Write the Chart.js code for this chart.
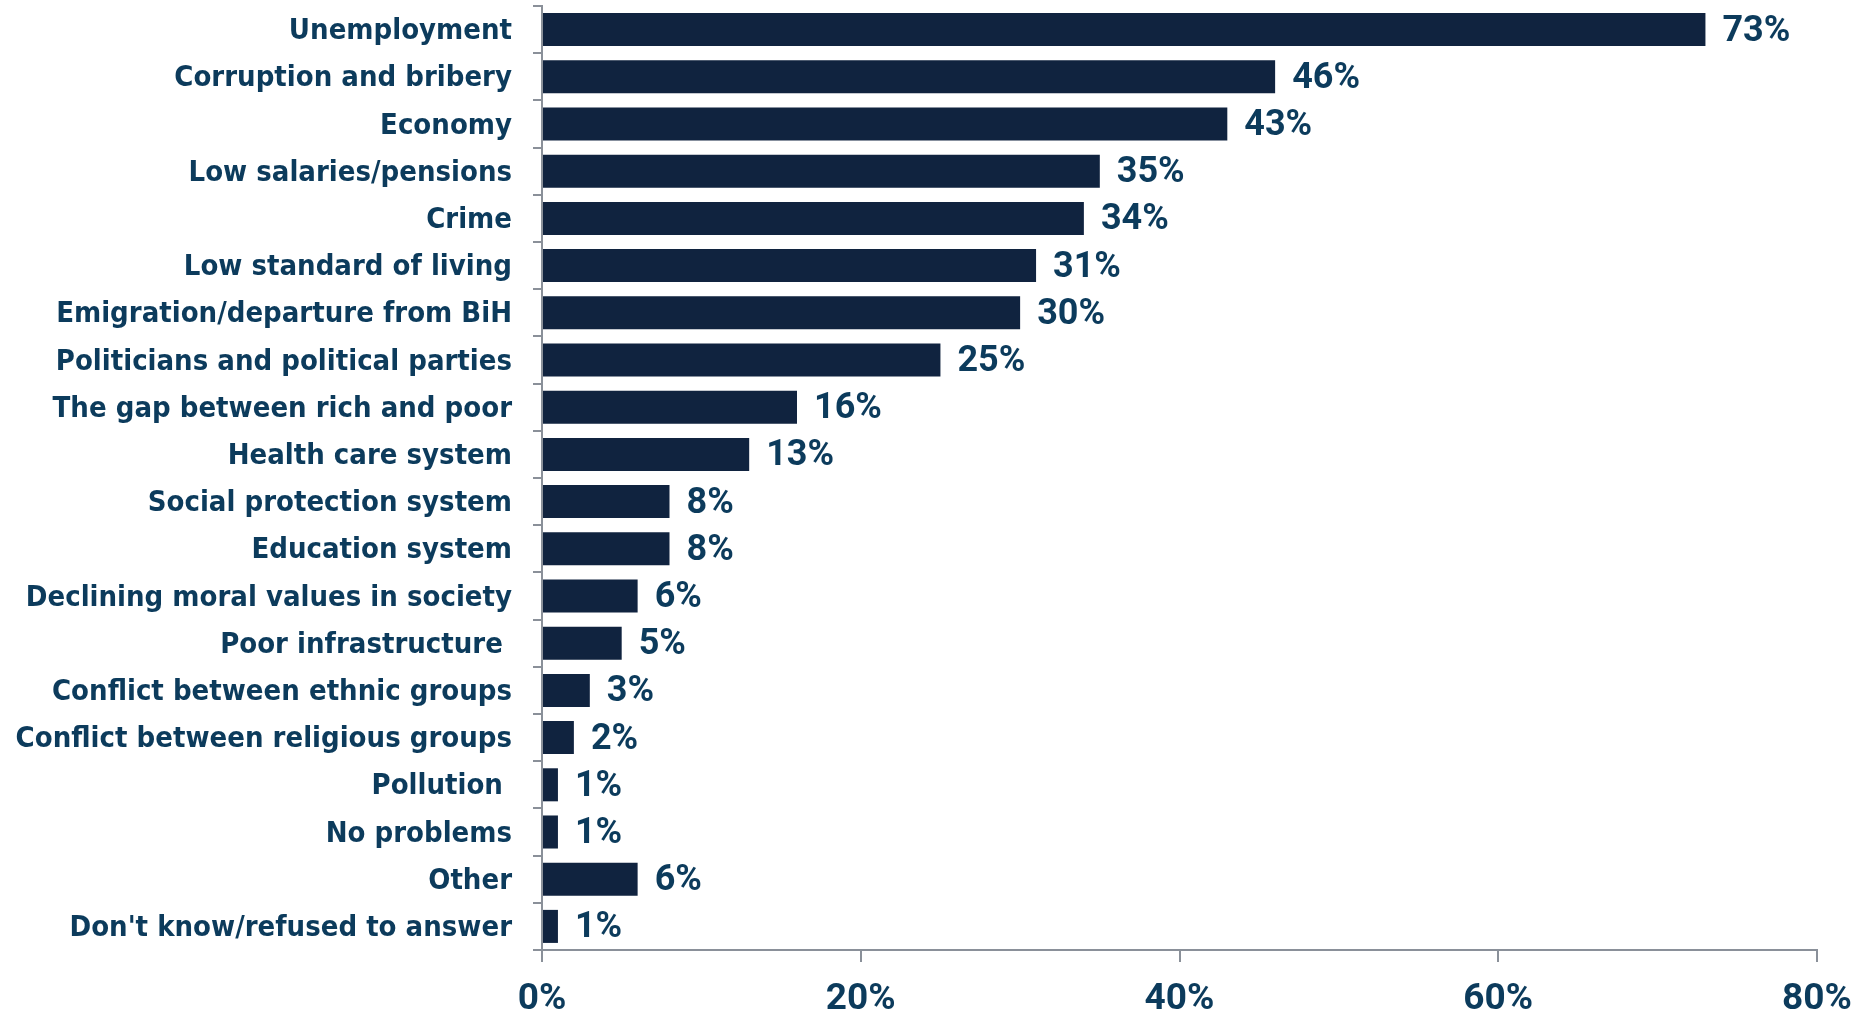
<!DOCTYPE html>
<html>
<head>
<meta charset="utf-8">
<script src="https://cdn.jsdelivr.net/npm/chart.js@4.4.0/dist/chart.umd.min.js"></script>
<style>
html,body{margin:0;padding:0;background:#fff;}
#wrap{width:1860px;height:1016px;position:relative;}
</style>
</head>
<body>
<div id="wrap"><canvas id="c" width="1860" height="1016"></canvas></div>
<script>
const categories = [
  "Unemployment","Corruption and bribery","Economy","Low salaries/pensions","Crime",
  "Low standard of living","Emigration/departure from BiH","Politicians and political parties",
  "The gap between rich and poor","Health care system","Social protection system","Education system",
  "Declining moral values in society","Poor infrastructure ","Conflict between ethnic groups",
  "Conflict between religious groups","Pollution ","No problems","Other","Don't know/refused to answer"
];
const values = [73,46,43,35,34,31,30,25,16,13,8,8,6,5,3,2,1,1,6,1];
const xTicks = [0,20,40,60,80];

const TEXT = '#0c3b5c';
const BAR = '#10233f';
const AXIS = '#8a9099';
const LABEL_FONT = '"DejaVu Sans Condensed","DejaVu Sans",sans-serif';
const NUM_FONT = 'Roboto,"Open Sans",sans-serif';

const valueLabels = {
  id:'valueLabels',
  afterDatasetsDraw(chart){
    const ctx = chart.ctx;
    const meta = chart.getDatasetMeta(0);
    ctx.save();
    ctx.font = 'bold 36px ' + NUM_FONT;
    ctx.fillStyle = TEXT;
    ctx.textBaseline = 'middle';
    ctx.textAlign = 'left';
    meta.data.forEach((bar,i)=>{
      ctx.fillText(values[i] + '%', bar.x + 17, bar.y + 2);
    });
    ctx.restore();
  }
};

new Chart(document.getElementById('c'), {
  type:'bar',
  data:{
    labels:categories,
    datasets:[{data:values, backgroundColor:BAR, borderWidth:0, barPercentage:0.7, categoryPercentage:1.0}]
  },
  options:{
    indexAxis:'y',
    responsive:false,
    animation:false,
    layout:{padding:{top:6,right:43,bottom:0,left:0}},
    plugins:{legend:{display:false},tooltip:{enabled:false}},
    scales:{
      x:{
        min:0,max:80,
        afterBuildTicks(axis){ axis.ticks = xTicks.map(v=>({value:v})); },
        afterFit(axis){ axis.height = 66; axis.paddingLeft = 0; axis.paddingRight = 0; },
        border:{display:true,color:AXIS,width:2},
        grid:{display:true,drawOnChartArea:false,drawTicks:true,tickLength:12,color:AXIS,lineWidth:2},
        ticks:{color:TEXT,font:{family:NUM_FONT,size:37,weight:'bold'},padding:16,callback:(v)=>v+'%',maxRotation:0}
      },
      y:{
        afterFit(axis){ axis.width = 542; axis.paddingTop = 0; axis.paddingBottom = 0; },
        border:{display:true,color:AXIS,width:2},
        grid:{display:true,offset:true,drawOnChartArea:false,drawTicks:true,tickLength:9,color:AXIS,lineWidth:2},
        ticks:{color:TEXT,font:{family:LABEL_FONT,size:29,weight:'bold'},padding:21,labelOffset:2,autoSkip:false}
      }
    }
  },
  plugins:[valueLabels]
});
</script>
</body>
</html>
